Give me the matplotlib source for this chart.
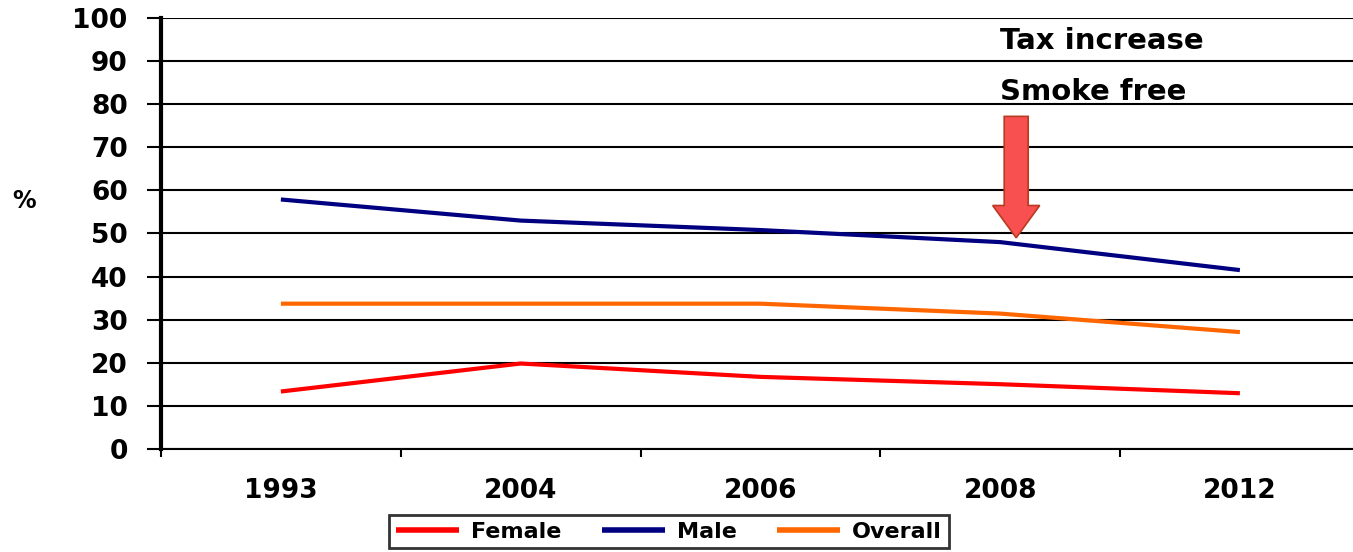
import matplotlib
matplotlib.use("Agg")
import matplotlib.pyplot as plt
from matplotlib.patches import FancyArrow
from matplotlib.ticker import MultipleLocator, FixedLocator

years = ["1993", "2004", "2006", "2008", "2012"]
female = [13.3, 19.8, 16.7, 15.0, 12.9]
male = [57.9, 53.0, 50.8, 48.0, 41.5]
overall = [33.7, 33.7, 33.7, 31.4, 27.1]

plt.rcParams["font.family"] = ["DejaVu Sans"]
plt.rcParams["font.weight"] = "bold"

fig = plt.figure(figsize=(13.53, 5.52), dpi=100)
ax = fig.add_axes([0.119, 0.187, 0.886, 0.780])

x = list(range(len(years)))
ax.plot(x, female, color="#FF0000", lw=3, label="Female", solid_capstyle="butt")
ax.plot(x, male, color="#000080", lw=3, label="Male", solid_capstyle="butt")
ax.plot(x, overall, color="#FF6600", lw=3, label="Overall", solid_capstyle="butt")

ax.set_xlim(-0.5, 4.5)
ax.set_ylim(0, 100)
ax.yaxis.set_major_locator(MultipleLocator(10))
ax.set_xticks(x)
ax.set_xticklabels(years)
ax.xaxis.set_minor_locator(FixedLocator([-0.5, 0.5, 1.5, 2.5, 3.5]))
ax.grid(axis="y", color="black", lw=1.5)
ax.set_axisbelow(True)

for side in ("top", "right"):
    ax.spines[side].set_visible(False)
ax.spines["left"].set_linewidth(3)
ax.spines["bottom"].set_linewidth(1.5)

ax.tick_params(axis="y", length=10, width=1.5, pad=14, labelsize=19)
ax.tick_params(axis="x", which="major", length=0, pad=21, labelsize=19)
ax.tick_params(axis="x", which="minor", length=6, width=1.5)

fig.text(0.009, 0.636, "%", fontsize=17, fontweight="bold", va="center")

# policy marker above the 2008 point
ax.add_patch(FancyArrow(3.067, 77.2, 0, -20.7, width=0.1, head_width=0.196,
                        head_length=7.5, length_includes_head=False,
                        facecolor="#F85050", edgecolor="#B83A20", lw=1.2,
                        zorder=5))
ax.text(3.0, 94.7, "Tax increase", fontsize=21, fontweight="bold", va="center")
ax.text(3.0, 82.8, "Smoke free", fontsize=21, fontweight="bold", va="center")

leg = fig.legend(loc="upper center", bbox_to_anchor=(0.4945, 0.067), ncol=3,
                 frameon=True, fancybox=False, edgecolor="black",
                 prop={"size": 16, "weight": "bold"}, handlelength=2.85,
                 handletextpad=0.54, columnspacing=1.8, borderpad=0.3,
                 borderaxespad=0.0)
leg.get_frame().set_linewidth(2)
for h in leg.get_lines():
    h.set_linewidth(4)

fig.savefig("out.png", dpi=100)
